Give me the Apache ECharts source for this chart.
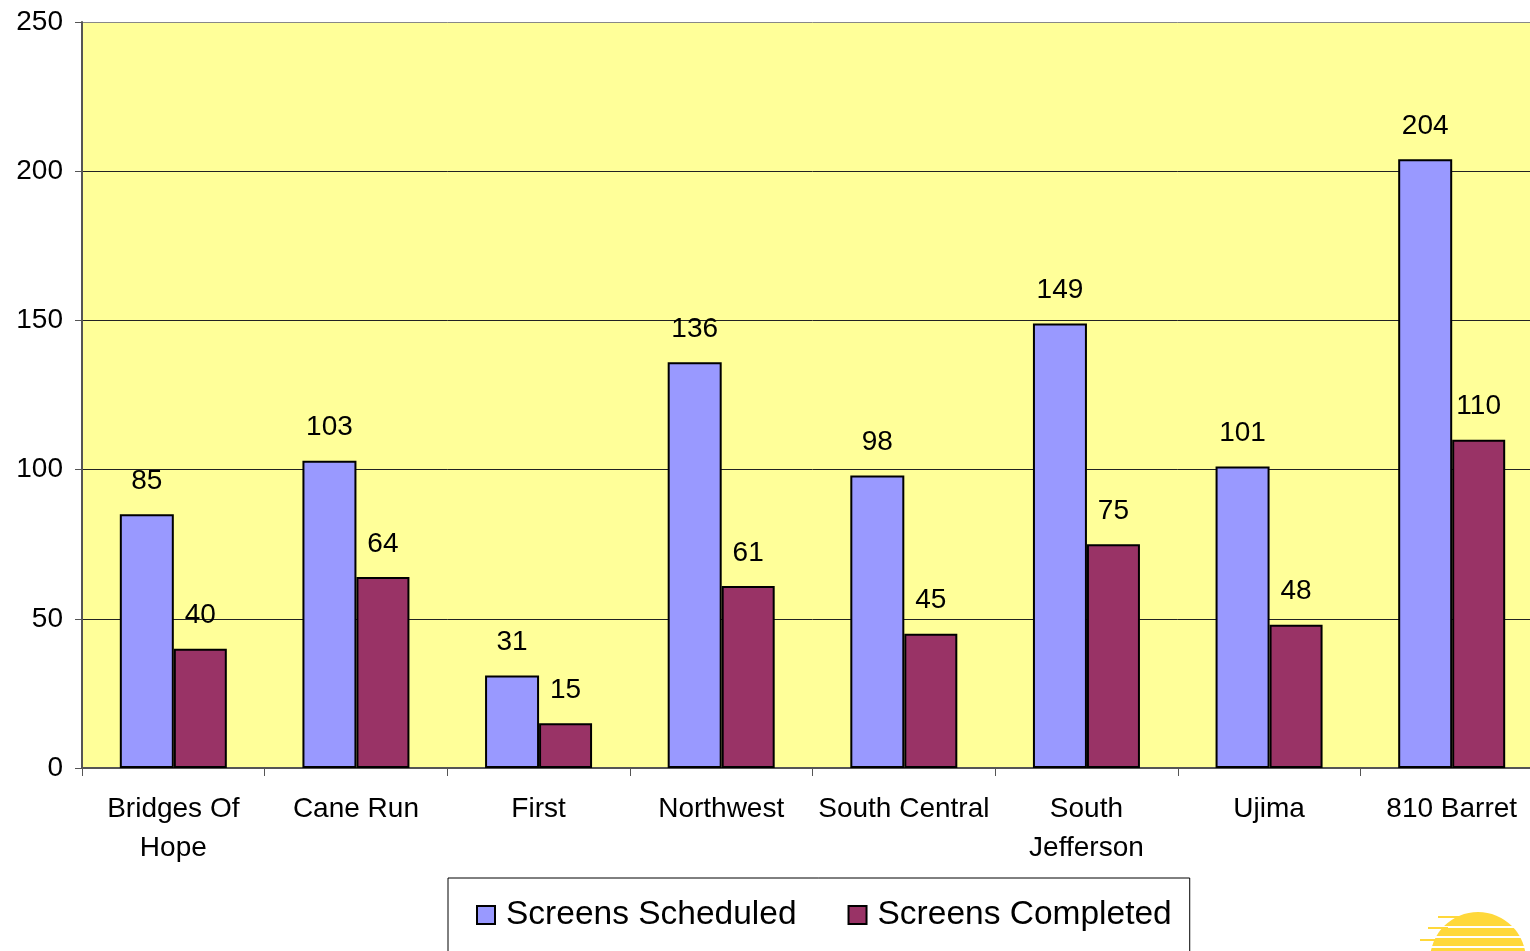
<!DOCTYPE html>
<html>
<head>
<meta charset="utf-8">
<script src="https://cdn.jsdelivr.net/npm/echarts@6/dist/echarts.min.js"></script>
<style>
  html, body { margin: 0; padding: 0; background: #fff; overflow: hidden; }
  /* plot area runs past the right edge of the window, as in the source */
  #chart { width: 1543px; height: 951px; }
</style>
</head>
<body>
<div id="chart"></div>
<script>
const categories = ["Bridges Of\nHope", "Cane Run", "First", "Northwest", "South Central", "South\nJefferson", "Ujima", "810 Barret"];
const scheduled = [85, 103, 31, 136, 98, 149, 101, 204];
const completed = [40, 64, 15, 61, 45, 75, 48, 110];
const seriesNames = ["Screens Scheduled", "Screens Completed"];

const font = "'Liberation Sans', Arial, sans-serif";
const chart = echarts.init(document.getElementById("chart"), null, { renderer: "canvas" });

const barLabel = {
  show: true,
  position: "top",
  distance: 19,
  color: "#000",
  fontSize: 28,
  fontFamily: font
};

chart.setOption({
  animation: false,
  textStyle: { fontFamily: font },
  grid: {
    left: 82, right: 0, top: 22, bottom: 183,
    show: true, backgroundColor: "#FFFF99", borderWidth: 0
  },
  legend: {
    left: 448, top: 878,
    data: seriesNames,
    itemWidth: 18, itemHeight: 18,
    itemGap: 51,
    padding: [20, 18, 40, 28],
    borderColor: "#000", borderWidth: 1,
    backgroundColor: "#fff",
    icon: "rect",
    itemStyle: { borderColor: "#000", borderWidth: 2 },
    textStyle: { fontSize: 33.5, color: "#000", fontFamily: font, padding: [0, 0, 0, 6] }
  },
  xAxis: {
    type: "category",
    data: categories,
    axisLine: { lineStyle: { color: "#555", width: 2 } },
    axisTick: { show: true, length: 8, lineStyle: { color: "#555" } },
    axisLabel: { color: "#000", fontSize: 28, lineHeight: 39, margin: 22, interval: 0 }
  },
  yAxis: {
    type: "value",
    min: 0, max: 250, interval: 50,
    axisLine: { show: true, lineStyle: { color: "#555", width: 2 } },
    axisTick: { show: true, length: 7, lineStyle: { color: "#555" } },
    axisLabel: { color: "#000", fontSize: 28, margin: 19 },
    splitLine: { show: true, lineStyle: { color: ["#555", "#222", "#222", "#222", "#222", "#888"], width: 1 } }
  },
  series: [
    {
      name: seriesNames[0], type: "bar", data: scheduled,
      barWidth: 54, barGap: "0%",
      itemStyle: { color: "#9999FF", borderColor: "#000", borderWidth: 2 },
      label: barLabel
    },
    {
      name: seriesNames[1], type: "bar", data: completed,
      barWidth: 53,
      itemStyle: { color: "#993366", borderColor: "#000", borderWidth: 2 },
      label: barLabel
    }
  ],
  graphic: [
    {
      type: "group", left: 1416, top: 912, silent: true,
      children: [
        { type: "circle", shape: { cx: 62, cy: 50, r: 48 }, style: { fill: "#FFD83A" } },
        { type: "rect", shape: { x: 0, y: 16, width: 140, height: 2 }, style: { fill: "#fff" } },
        { type: "rect", shape: { x: 0, y: 26, width: 140, height: 2 }, style: { fill: "#fff" } },
        { type: "rect", shape: { x: 0, y: 36, width: 140, height: 2 }, style: { fill: "#fff" } },
        { type: "rect", shape: { x: 22, y: 6, width: 22, height: 2 }, style: { fill: "#FFD83A" } },
        { type: "rect", shape: { x: 12, y: 17, width: 20, height: 2 }, style: { fill: "#FFD83A" } },
        { type: "rect", shape: { x: 4, y: 29, width: 22, height: 2 }, style: { fill: "#FFD83A" } }
      ]
    }
  ]
});

window.addEventListener("resize", () => chart.resize());
</script>
</body>
</html>
